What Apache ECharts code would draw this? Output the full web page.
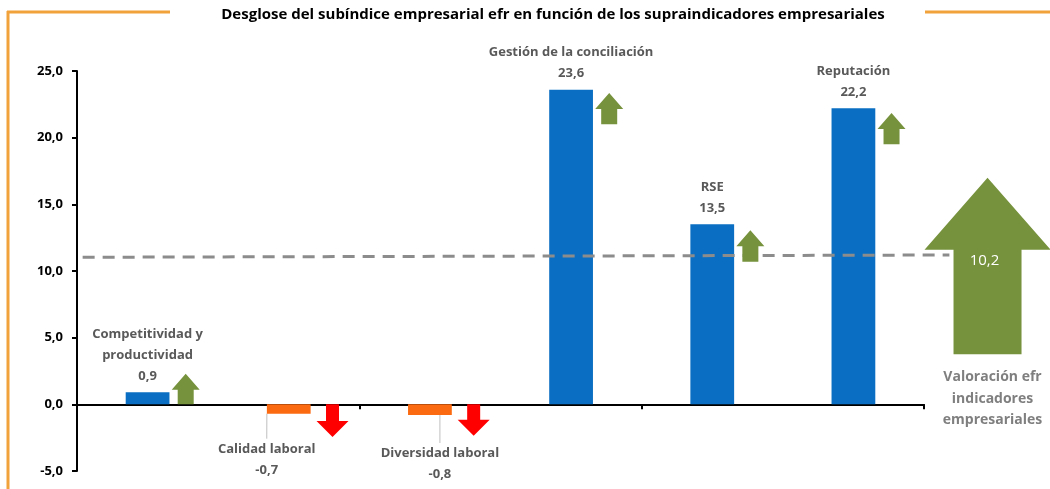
<!DOCTYPE html>
<html>
<head>
<meta charset="utf-8">
<script src="https://cdn.jsdelivr.net/npm/echarts@6/dist/echarts.min.js"></script>
<style>
  html, body { margin: 0; padding: 0; background: #fff; }
  #chart { width: 1050px; height: 489px; }
</style>
</head>
<body>
<div id="chart"></div>
<script>
// datos del gráfico
const categories = ['Competitividad y\nproductividad', 'Calidad laboral', 'Diversidad laboral',
  'Gestión de la conciliación', 'RSE', 'Reputación'];
const values = [0.9, -0.7, -0.8, 23.6, 13.5, 22.2];
const yTicks = { min: -5, max: 25, interval: 5 };
// flechas pequeñas: [categoría, desde, hasta]
const arrows = [[0, 0, 2.3], [1, 0, -2.45], [2, 0, -2.35], [3, 21.0, 23.35], [4, 10.7, 13.05], [5, 19.5, 21.85]];
// línea de referencia discontinua: [x1, y1, x2, y2] sobre eje auxiliar 0..6
const refLine = [[0.04, 11.03, 6.18, 11.2]];
// flecha grande del total
const totalValue = 10.2;
const totalArrow = [[6.45, 3.75, 17.0]];
const totalLabel = 'Valoración efr\nindicadores\nempresariales';

const fmt = v => v.toFixed(1).replace('.', ',');
const FONT = 'Open Sans';
const GREY = '#595959';
const ORANGE = '#f2a23a';

const chart = echarts.init(document.getElementById('chart'));

chart.setOption({
  backgroundColor: '#fff',
  animation: false,
  title: {
    text: 'Desglose del subíndice empresarial efr en función de los supraindicadores empresariales',
    left: 548, top: 2, textAlign: 'center',
    textStyle: { fontFamily: FONT, fontWeight: 'bold', fontSize: 15, color: '#000' }
  },
  grid: { left: 77, right: 126, top: 71, bottom: 18, containLabel: false },
  xAxis: [
    {
      type: 'category',
      data: categories,
      axisLine: { lineStyle: { color: '#000', width: 2 } },
      axisTick: { show: true, length: 5, lineStyle: { color: '#000', width: 2 } },
      axisLabel: { show: false }
    },
    { type: 'value', min: 0, max: 6, show: false }
  ],
  yAxis: {
    type: 'value',
    min: yTicks.min, max: yTicks.max, interval: yTicks.interval,
    splitLine: { show: false },
    axisLine: { show: true, lineStyle: { color: '#000', width: 2 } },
    axisTick: { show: true, length: 5, lineStyle: { color: '#000', width: 2 } },
    axisLabel: {
      formatter: v => fmt(v), margin: 14,
      fontFamily: FONT, fontWeight: 'bold', fontSize: 13, color: '#000'
    }
  },
  graphic: [
    { type: 'line', shape: { x1: 7, y1: 12, x2: 170, y2: 12 }, style: { stroke: ORANGE, lineWidth: 3 } },
    { type: 'line', shape: { x1: 8, y1: 11, x2: 8, y2: 489 }, style: { stroke: ORANGE, lineWidth: 3 } },
    { type: 'line', shape: { x1: 925, y1: 12, x2: 1050, y2: 12 }, style: { stroke: ORANGE, lineWidth: 3 } }
  ],
  series: [
    {
      type: 'bar',
      barWidth: '31%',
      data: values.map(v => ({
        value: v,
        itemStyle: { color: v >= 0 ? '#0a6fc2' : '#fb6a10' },
        label: { position: v >= 0 ? 'top' : 'bottom' },
        labelLine: { show: v < 0 }
      })),
      label: {
        show: true, distance: 6,
        formatter: p => p.name + '\n' + fmt(p.value),
        fontFamily: FONT, fontWeight: 'bold', fontSize: 13, lineHeight: 21, color: GREY
      },
      labelLine: { lineStyle: { color: '#bfbfbf', width: 1 } },
      labelLayout: p => {
        if (p.dataIndex === 1) return { dx: -22, dy: 19 };
        if (p.dataIndex === 2) return { dx: 10, dy: 22 };
        return {};
      }
    },
    {
      type: 'custom',
      xAxisIndex: 1,
      data: refLine,
      clip: false,
      z: 3,
      renderItem: (params, api) => {
        const a = api.coord([api.value(0), api.value(1)]);
        const b = api.coord([api.value(2), api.value(3)]);
        return {
          type: 'line',
          shape: { x1: a[0], y1: a[1], x2: b[0], y2: b[1] },
          style: { stroke: '#8c8c8c', lineWidth: 3, lineDash: [12, 8] }
        };
      }
    },
    {
      type: 'custom',
      data: arrows,
      z: 4,
      renderItem: (params, api) => {
        const cat = api.value(0);
        const from = api.coord([cat, api.value(1)]);
        const to = api.coord([cat, api.value(2)]);
        const up = api.value(2) > api.value(1);
        const bw = api.size([1, 0])[0];
        const cx = from[0] + bw * (up ? 0.27 : 0.31);
        const hw = up ? 14 : 16, sw = up ? 8 : 6.5, hh = 16;
        const dir = up ? 1 : -1;
        const yb = to[1] + dir * hh;
        return {
          type: 'polygon',
          shape: { points: [
            [cx, to[1]], [cx - hw, yb], [cx - sw, yb], [cx - sw, from[1]],
            [cx + sw, from[1]], [cx + sw, yb], [cx + hw, yb]
          ] },
          style: { fill: up ? '#76923c' : '#ff0000' }
        };
      }
    },
    {
      type: 'custom',
      xAxisIndex: 1,
      data: totalArrow,
      clip: false,
      z: 5,
      renderItem: (params, api) => {
        const base = api.coord([api.value(0), api.value(1)]);
        const tip = api.coord([api.value(0), api.value(2)]);
        const cx = base[0];
        const hw = 63, sw = 34, hh = 72;
        const yb = tip[1] + hh;
        return {
          type: 'group',
          children: [
            {
              type: 'polygon',
              shape: { points: [
                [cx, tip[1]], [cx - hw, yb], [cx - sw, yb], [cx - sw, base[1]],
                [cx + sw, base[1]], [cx + sw, yb], [cx + hw, yb]
              ] },
              style: { fill: '#76923c' }
            },
            {
              type: 'text',
              style: {
                x: cx - 3, y: yb + 11, text: fmt(totalValue), fill: '#fff',
                font: '15px ' + FONT, textAlign: 'center', textVerticalAlign: 'middle'
              }
            },
            {
              type: 'text',
              style: {
                x: cx + 5, y: base[1] + 12, text: totalLabel, fill: '#7f7f7f',
                font: 'bold 14px ' + FONT, textAlign: 'center', textVerticalAlign: 'top',
                lineHeight: 21.5
              }
            }
          ]
        };
      }
    }
  ]
});
</script>
</body>
</html>
